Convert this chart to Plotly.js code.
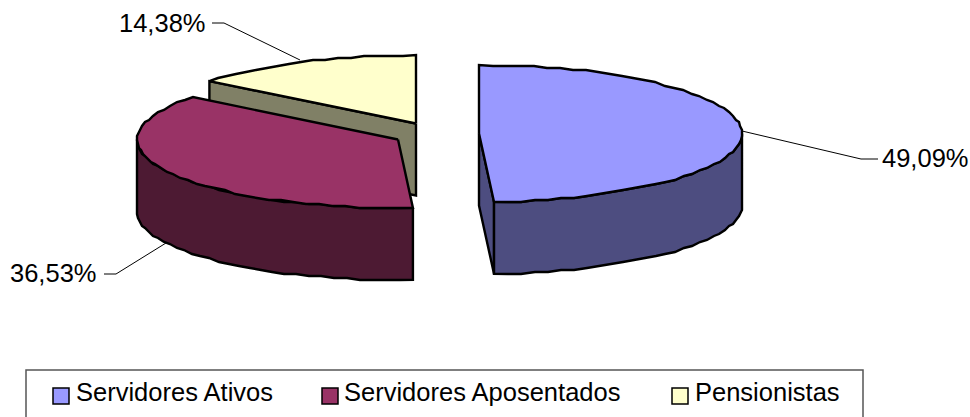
<!DOCTYPE html>
<html><head><meta charset="utf-8">
<script src="https://cdn.plot.ly/plotly-3.0.1.min.js"></script>
<style>html,body{margin:0;padding:0;background:#fff}#c{width:970px;height:417px}</style>
</head><body><div id="c"></div><script>
const categories = ["Servidores Ativos", "Servidores Aposentados", "Pensionistas"];
const shares = [49.09, 36.53, 14.38];
const shareLabels = ["49,09%", "36,53%", "14,38%"];
const topColors = ["#9999FF", "#993366", "#FFFFCC"];
const sideColors = ["#4D4D80", "#4D1A33", "#808066"];
const centersX = [479, 398, 416];
const centersY = [133.5, 139.5, 123.5];
const radiiX = [263, 261, 263];
const labelX = [882, 10, 119];
const labelY = [158, 273, 23];
const leaderX = [[742, 861, 878], [166, 116, 104], [300, 224, 212]];
const leaderY = [[131, 159, 159], [243, 274, 274], [60, 23, 23]];
const legendSwatchX = [53, 322, 672];
const legendTextX = [76, 344, 695];

const RY = 68.5, DEPTH = 72, STEP = 3, FONT = "Liberation Sans, Arial, sans-serif", FONT_SIZE = 25.5;
const rad = d => d * Math.PI / 180;
const snapY = y => Math.round(y / 2) * 2;
function pt(i, deg, dz) {
  return [Math.round(centersX[i] + radiiX[i] * Math.sin(rad(deg))),
          snapY(centersY[i] - RY * Math.cos(rad(deg))) + (dz || 0)];
}
function arc(i, a, b, dz) {
  const out = [];
  const n = Math.max(1, Math.ceil(Math.abs(b - a) / STEP));
  for (let k = 0; k <= n; k++) {
    const d = a + (b - a) * k / n;
    const p = pt(i, d, dz);
    if (k === 0 || k === n) {
      p[0] = centersX[i] + radiiX[i] * Math.sin(rad(d));
      p[1] = centersY[i] - RY * Math.cos(rad(d)) + (dz || 0);
    }
    out.push(p);
  }
  return out;
}
function poly(points, color, name) {
  const xs = points.map(p => p[0]).concat(points[0][0]);
  const ys = points.map(p => p[1]).concat(points[0][1]);
  return {x: xs, y: ys, type: "scatter", mode: "lines", fill: "toself", fillcolor: color,
          line: {color: "#000", width: 2.4, simplify: false}, name: name, hoverinfo: "skip", showlegend: false};
}
// wedge angles (clockwise from 12 o'clock) from the shares
let acc = 0;
const wedges = shares.map(v => { const w = [acc, acc + v * 3.6]; acc += v * 3.6; return w; });
function cutFace(i, deg) {
  const c = [centersX[i], centersY[i]], e = arc(i, deg, deg)[0];
  return poly([c, e, [e[0], e[1] + DEPTH], [c[0], c[1] + DEPTH]], sideColors[i], categories[i]);
}
function wedgeTraces(i) {
  const [a, b] = wedges[i], t = [], c = [centersX[i], centersY[i]], n = categories[i];
  const front0 = Math.max(a, 90), front1 = Math.min(b, 270);
  if (i === 0) t.push(cutFace(i, b));
  if (i === 2) t.push(cutFace(i, a));
  if (front1 > front0) {
    const up = arc(i, front0, front1), lo = arc(i, front1, front0, DEPTH);
    t.push(poly(up.concat(lo), sideColors[i], n));
  }
  t.push(poly([c].concat(arc(i, a, b)), topColors[i], n));
  return t;
}
const traces = [...wedgeTraces(2), ...wedgeTraces(1), ...wedgeTraces(0)];
shares.forEach((_, i) => traces.push({x: leaderX[i], y: leaderY[i], type: "scatter", mode: "lines",
  line: {color: "#000", width: 1}, hoverinfo: "skip", showlegend: false}));

const annotations = [], shapes = [];
shareLabels.forEach((s, i) => annotations.push({x: labelX[i], y: labelY[i], xref: "x", yref: "y", text: s,
  showarrow: false, xanchor: "left", yanchor: "middle", xshift: -2, font: {family: FONT, size: FONT_SIZE, color: "#000"}}));
shapes.push({type: "rect", xref: "x", yref: "y", x0: 26, x1: 863, y0: 370, y1: 420, line: {color: "#555", width: 1.5}, fillcolor: "#fff", layer: "below"});
categories.forEach((c, i) => {
  shapes.push({type: "rect", xref: "x", yref: "y", x0: legendSwatchX[i], x1: legendSwatchX[i] + 16, y0: 388, y1: 404,
    line: {color: "#000", width: 1.5}, fillcolor: topColors[i]});
  annotations.push({x: legendTextX[i], y: 392, xref: "x", yref: "y", text: c, showarrow: false, xanchor: "left", yanchor: "middle",
    xshift: -2, font: {family: FONT, size: FONT_SIZE, color: "#000"}});
});
const hiddenAxis = {visible: false, showgrid: false, zeroline: false, fixedrange: true};
Plotly.newPlot("c", traces, {
  width: 970, height: 417, margin: {l: 0, r: 0, t: 0, b: 0}, paper_bgcolor: "#fff", plot_bgcolor: "#fff", showlegend: false,
  xaxis: {...hiddenAxis, range: [0, 970]}, yaxis: {...hiddenAxis, range: [417, 0]},
  annotations, shapes
}, {displayModeBar: false, staticPlot: true});
</script></body></html>
